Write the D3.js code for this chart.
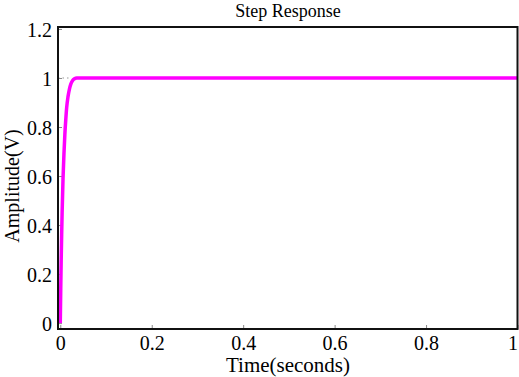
<!DOCTYPE html>
<html><head><meta charset="utf-8">
<script src="https://cdn.jsdelivr.net/npm/d3@7"></script>
<style>body{margin:0;background:#fff}svg{display:block}text{font-family:"Liberation Serif","Times New Roman",serif;fill:#000}</style>
</head><body><svg id="c" width="519" height="377"></svg>
<script>
const timeValues = [0, 0.001, 0.002, 0.003, 0.004, 0.006, 0.008, 0.010, 0.012, 0.014, 0.017, 0.020, 0.023, 0.027, 0.031, 0.036, 0.1, 0.3, 0.5, 0.7, 1.0];
const amplitudeValues = [0, 0.14, 0.26, 0.36, 0.45, 0.59, 0.69, 0.77, 0.83, 0.88, 0.925, 0.955, 0.975, 0.99, 0.997, 1.0, 1.0, 1.0, 1.0, 1.0, 1.0];
const xTicks = [0, 0.2, 0.4, 0.6, 0.8, 1];
const yTicks = [0, 0.2, 0.4, 0.6, 0.8, 1, 1.2];
const xTickLabels = ["0", "0.2", "0.4", "0.6", "0.8", "1"];
const yTickLabels = ["0", "0.2", "0.4", "0.6", "0.8", "1", "1.2"];
const titleText = "Step Response";
const xLabelText = "Time(seconds)";
const yLabelText = "Amplitude(V)";

const svg = d3.select("#c");
const L = 58, R = 517.5, T = 27, B = 329;
const x = d3.scaleLinear().domain([-0.005, 1.0]).range([L, R]);
const y = d3.scaleLinear().domain([-0.024, 1.208]).range([B, T]);

const xAxis = d3.axisBottom(x).tickValues(xTicks).tickFormat((d,i)=>xTickLabels[i]).tickSizeInner(-4).tickSizeOuter(0);
const gx = svg.append("g").attr("transform", `translate(0,${B})`).call(xAxis);
gx.select(".domain").remove();
gx.selectAll(".tick line").attr("stroke", "#888");
gx.selectAll(".tick text").style("font-size", "20px").attr("dy", "0.71em").attr("y", 7)
  .attr("x", (d,i)=> i === xTicks.length - 1 ? -5 : 0);

const yAxis = d3.axisLeft(y).tickValues(yTicks).tickFormat((d,i)=>yTickLabels[i]).tickSizeInner(-4).tickSizeOuter(0);
const gy = svg.append("g").attr("transform", `translate(${L},0)`).call(yAxis);
gy.select(".domain").remove();
gy.selectAll(".tick line").attr("stroke", "#888");
gy.selectAll(".tick text").style("font-size", "20px").attr("x", -6).attr("dy", "0.36em");

svg.append("line").attr("x1", L).attr("x2", x(0.02)).attr("y1", y(1)).attr("y2", y(1))
  .attr("stroke", "#999").attr("stroke-width", 1.2).attr("stroke-dasharray", "1.5,3");

const line = d3.line().x((d,i)=>x(timeValues[i])).y(d=>y(d)).curve(d3.curveMonotoneX);
svg.append("path").datum(amplitudeValues).attr("d", line)
  .attr("fill", "none").attr("stroke", "#ff00ff").attr("stroke-width", 3.5).attr("stroke-linejoin", "round");

svg.append("rect").attr("x", L).attr("y", T).attr("width", R - L).attr("height", B - T)
  .attr("fill", "none").attr("stroke", "#111").attr("stroke-width", 2);

svg.append("text").attr("x", 288).attr("y", 17).attr("text-anchor", "middle").style("font-size", "18px").text(titleText);
svg.append("text").attr("x", 288).attr("y", 372).attr("text-anchor", "middle").style("font-size", "21px").text(xLabelText);
svg.append("text").attr("transform", `translate(19,${(T+B)/2 + 8}) rotate(-90)`).attr("text-anchor", "middle").style("font-size", "20px").text(yLabelText);
</script></body></html>
